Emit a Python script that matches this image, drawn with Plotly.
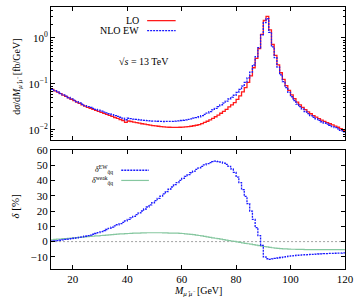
import plotly.graph_objects as go
from plotly.subplots import make_subplots

# bin edges (1 GeV bins from 12 to 120 GeV)
bin_lo = list(range(12, 120))
bin_hi_last = 120

lo = [0.0760, 0.0708, 0.0660, 0.0615, 0.0573, 0.0534, 0.0498, 0.0464, 0.0433, 0.0403,
      0.0376, 0.0350, 0.0327, 0.0310, 0.0295, 0.0280, 0.0266, 0.0253, 0.0240, 0.0228,
      0.0217, 0.0206, 0.0196, 0.0186, 0.0177, 0.0168, 0.0160, 0.0146, 0.0156, 0.0152,
      0.0148, 0.0144, 0.0140, 0.0136, 0.0133, 0.0130, 0.0127, 0.0124, 0.0122, 0.0120,
      0.0118, 0.0116, 0.0115, 0.0114, 0.0113, 0.0113, 0.0113, 0.0114, 0.0115, 0.0116,
      0.0118, 0.0120, 0.0123, 0.0126, 0.0130, 0.0137, 0.0145, 0.0154, 0.0165, 0.0178,
      0.0193, 0.0210, 0.0230, 0.0253, 0.0280, 0.0315, 0.0350, 0.0390, 0.0460, 0.0550,
      0.0670, 0.0830, 0.108, 0.150, 0.225, 0.360, 0.590, 1.20, 2.40, 2.95,
      1.50, 0.72, 0.42, 0.26, 0.175, 0.125, 0.092, 0.072, 0.058, 0.048,
      0.040, 0.035, 0.031, 0.0275, 0.0247, 0.0224, 0.0205, 0.0189, 0.0175, 0.0163,
      0.0153, 0.0144, 0.0136, 0.0128, 0.0121, 0.0114, 0.0106, 0.0098]

nlo_ew = [0.0762, 0.0712, 0.0665, 0.0621, 0.0579, 0.0541, 0.0506, 0.0473, 0.0443, 0.0413,
          0.0387, 0.0361, 0.0338, 0.0322, 0.0308, 0.0293, 0.0280, 0.0268, 0.0256, 0.0244,
          0.0234, 0.0224, 0.0215, 0.0205, 0.0196, 0.0188, 0.0180, 0.0166, 0.0179, 0.0176,
          0.0172, 0.0169, 0.0166, 0.0163, 0.0161, 0.0159, 0.0157, 0.0155, 0.0155, 0.0154,
          0.0153, 0.0152, 0.0153, 0.0153, 0.0153, 0.0155, 0.0157, 0.0160, 0.0162, 0.0165,
          0.0170, 0.0174, 0.0180, 0.0185, 0.0193, 0.0204, 0.0218, 0.0232, 0.0250, 0.0271,
          0.0295, 0.0320, 0.0349, 0.0383, 0.0421, 0.0470, 0.0516, 0.0567, 0.0654, 0.0762,
          0.0898, 0.1075, 0.1348, 0.180, 0.258, 0.393, 0.613, 1.17, 2.16, 2.62,
          1.33, 0.639, 0.374, 0.232, 0.157, 0.112, 0.0830, 0.0652, 0.0526, 0.0436,
          0.0364, 0.0319, 0.0283, 0.0251, 0.0226, 0.0205, 0.0188, 0.0174, 0.0161, 0.0150,
          0.0141, 0.0133, 0.0126, 0.0118, 0.0112, 0.0105, 0.0098, 0.0091]

delta_ew = [0.3, 0.5, 0.7, 0.9, 1.1, 1.4, 1.6, 1.9, 2.2, 2.5,
            2.8, 3.1, 3.5, 3.9, 4.3, 4.8, 5.3, 5.9, 6.5, 7.2,
            7.9, 8.7, 9.5, 10.3, 11.0, 11.8, 12.6, 13.5, 14.5, 15.5,
            16.5, 17.6, 18.8, 20.0, 21.3, 22.6, 24.0, 25.4, 26.8, 28.2,
            29.7, 31.2, 32.7, 34.2, 35.7, 37.2, 38.6, 40.0, 41.3, 42.6,
            43.8, 45.0, 46.1, 47.2, 48.2, 49.2, 50.1, 50.9, 51.6, 52.3,
            52.6, 52.3, 51.9, 51.3, 50.5, 49.2, 47.5, 45.3, 42.2, 38.5,
            34.0, 29.5, 24.8, 19.9, 14.5, 9.2, 3.9, -2.5, -10.0, -11.2,
            -11.6, -11.3, -11.0, -10.7, -10.4, -10.1, -9.8, -9.5, -9.3, -9.1,
            -8.9, -8.8, -8.7, -8.6, -8.5, -8.4, -8.3, -8.2, -8.1, -8.0,
            -7.9, -7.8, -7.7, -7.7, -7.6, -7.5, -7.5, -7.4]

delta_weak = [1.2, 1.4, 1.6, 1.7, 1.9, 2.0, 2.2, 2.3, 2.5, 2.6,
              2.8, 2.9, 3.1, 3.2, 3.4, 3.5, 3.7, 3.8, 4.0, 4.1,
              4.3, 4.4, 4.6, 4.7, 4.9, 5.0, 5.1, 5.2, 5.3, 5.4,
              5.5, 5.6, 5.6, 5.7, 5.7, 5.8, 5.8, 5.8, 5.8, 5.8,
              5.8, 5.7, 5.7, 5.6, 5.6, 5.5, 5.5, 5.4, 5.3, 5.1,
              4.9, 4.7, 4.5, 4.2, 4.0, 3.7, 3.4, 3.1, 2.8, 2.5,
              2.2, 1.9, 1.6, 1.3, 1.0, 0.7, 0.4, 0.1, -0.2, -0.5,
              -0.8, -1.1, -1.4, -1.7, -2.0, -2.3, -2.6, -2.9, -3.2, -3.5,
              -3.8, -4.0, -4.2, -4.4, -4.6, -4.7, -4.8, -4.9, -5.0, -5.0,
              -5.1, -5.1, -5.1, -5.2, -5.2, -5.2, -5.2, -5.2, -5.2, -5.3,
              -5.3, -5.3, -5.3, -5.3, -5.3, -5.3, -5.3, -5.3]

x_ticks = [20, 40, 60, 80, 100, 120]
top_tickvals = [0.01, 0.1, 1]
top_ticktext = ["10<sup>−2</sup>", "10<sup>−1</sup>", "10<sup>0</sup>"]
bot_tickvals = [-10, 0, 10, 20, 30, 40, 50, 60]

FONT = "Liberation Serif"
RED = "#ff1a1a"
BLUE = "#1a1aff"
GREEN = "#86c7a0"

xs = bin_lo + [bin_hi_last]
def step(v):
    return list(v) + [v[-1]]

fig = make_subplots(rows=2, cols=1, shared_xaxes=True)

fig.add_trace(go.Scatter(x=xs, y=step(lo), mode="lines", line_shape="hv",
                         line=dict(color=RED, width=1.3), showlegend=False), row=1, col=1)
fig.add_trace(go.Scatter(x=xs, y=step(nlo_ew), mode="lines", line_shape="hv",
                         line=dict(color=BLUE, width=1.3, dash="2px,1px"), showlegend=False), row=1, col=1)

fig.add_trace(go.Scatter(x=[12, 120], y=[0, 0], mode="lines",
                         line=dict(color="#888888", width=0.8, dash="2px,2px"), showlegend=False), row=2, col=1)
fig.add_trace(go.Scatter(x=xs, y=step(delta_weak), mode="lines", line_shape="hv",
                         line=dict(color=GREEN, width=1.2), showlegend=False), row=2, col=1)
fig.add_trace(go.Scatter(x=xs, y=step(delta_ew), mode="lines", line_shape="hv",
                         line=dict(color=BLUE, width=1.3, dash="2px,1px"), showlegend=False), row=2, col=1)

axis_common = dict(showline=True, linecolor="black", linewidth=1, mirror="allticks",
                   ticks="inside", ticklen=4, tickcolor="black", showgrid=False, zeroline=False,
                   tickfont=dict(family=FONT, size=11, color="black"))

fig.update_xaxes(range=[11.98, 120.02], tickvals=x_ticks, ticklabeloverflow="allow", **axis_common)
fig.update_xaxes(showticklabels=False, row=1, col=1)
fig.update_yaxes(type="log", range=[-2.213, 0.674], tickvals=top_tickvals, ticktext=top_ticktext,
                 minor=dict(ticks="inside", ticklen=2, dtick="D1", tickcolor="black"),
                 row=1, col=1, **axis_common)
fig.update_yaxes(range=[-17.9, 60], tickvals=bot_tickvals, row=2, col=1, **axis_common)

fig.update_layout(
    width=355, height=301,
    margin=dict(l=51, r=7, t=1, b=32),
    paper_bgcolor="white", plot_bgcolor="white",
    font=dict(family=FONT, size=11, color="black"),
    yaxis=dict(domain=[0.4937, 1.0]),
    yaxis2=dict(domain=[0.0, 0.455]),
    hovermode=False,
)

ann = []
ann.append(dict(text="LO", x=0.306, y=0.950, xanchor="right", size=10))
ann.append(dict(text="NLO EW", x=0.306, y=0.910, xanchor="right", size=10))
ann.append(dict(text="√<i>s</i> = 13 TeV", x=0.316, y=0.791, xanchor="center", size=10))
ann.append(dict(text="<i>δ</i><sup>EW</sup><sub>q\u0304q</sub>", x=0.216, y=0.380, xanchor="right", size=8))
ann.append(dict(text="<i>δ</i><sup>weak</sup><sub>q\u0304q</sub>", x=0.216, y=0.336, xanchor="right", size=8))
ann.append(dict(text="<i>M</i><sub><i>μ⁺μ⁻</i></sub> [GeV]", x=0.5, y=-0.086, xanchor="center", size=10))
ann.append(dict(text="d<i>σ</i>/d<i>M</i><sub><i>μ⁺μ⁻</i></sub> [fb/GeV]", x=-0.1145, y=0.735, xanchor="center", size=10, rot=-90))
ann.append(dict(text="<i>δ</i> [%]", x=-0.122, y=0.239, xanchor="center", size=11, rot=-90))

for a in ann:
    fig.add_annotation(text=a["text"], x=a["x"], y=a["y"], xref="paper", yref="paper",
                       xanchor=a["xanchor"], yanchor="middle", showarrow=False,
                       textangle=a.get("rot", 0),
                       font=dict(family=FONT, size=a.get("size", 11), color="black"))

# legend line samples
fig.add_shape(type="line", xref="paper", yref="paper", x0=0.327, x1=0.424, y0=0.948, y1=0.948,
              line=dict(color=RED, width=1.3))
fig.add_shape(type="line", xref="paper", yref="paper", x0=0.327, x1=0.424, y0=0.910, y1=0.910,
              line=dict(color=BLUE, width=1.3, dash="2px,1px"))
fig.add_shape(type="line", xref="paper", yref="paper", x0=0.239, x1=0.333, y0=0.377, y1=0.377,
              line=dict(color=BLUE, width=1.3, dash="2px,1px"))
fig.add_shape(type="line", xref="paper", yref="paper", x0=0.239, x1=0.333, y0=0.338, y1=0.338,
              line=dict(color=GREEN, width=1.2))

fig.write_html("out.html",
               config={"displayModeBar": False, "staticPlot": True},
               post_script="document.body.style.margin='0';document.body.style.padding='0';")
